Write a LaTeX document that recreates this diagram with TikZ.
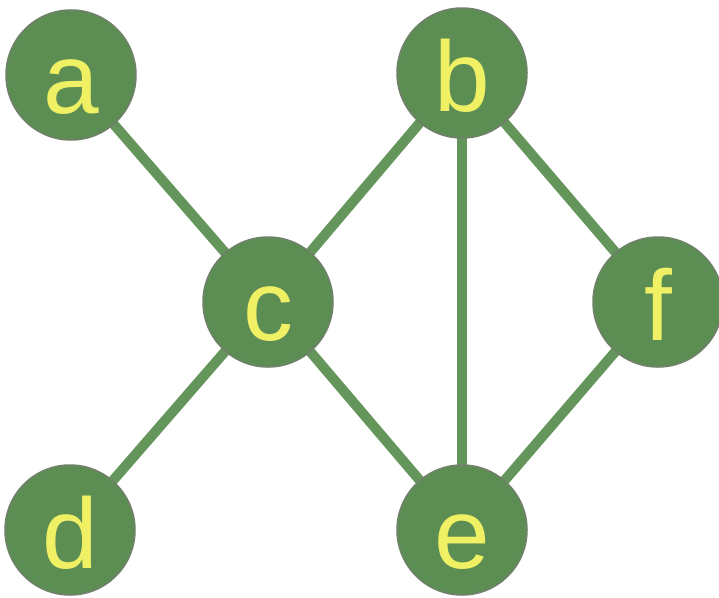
\documentclass[tikz,border=0pt]{standalone}
\usepackage{fontspec}
\setmainfont{Liberation Sans}
\definecolor{nodegreen}{RGB}{92,142,84}
\definecolor{edgegreen}{RGB}{100,150,92}
\definecolor{rimgray}{RGB}{112,128,106}
\definecolor{letteryellow}{RGB}{240,240,100}
\begin{document}
\begin{tikzpicture}[x=1pt,y=-1pt,
  vertex/.style={circle,fill=nodegreen,draw=rimgray,line width=1.5pt,minimum size=130pt,inner sep=0pt},
  lbl/.style={anchor=base,text=letteryellow,font=\fontsize{100}{100}\selectfont,inner sep=0pt},
  edge/.style={draw=edgegreen,line width=10pt}]
\useasboundingbox (0,0) rectangle (719,597);
\fill[white] (0,0) rectangle (719,597);
\coordinate (pa) at (71,75);
\coordinate (pb) at (462,73);
\coordinate (pc) at (268,302);
\coordinate (pd) at (70,530);
\coordinate (pe) at (462,530);
\coordinate (pf) at (658,302);
\path[edge] (pa) -- (pc);
\path[edge] (pc) -- (pb);
\path[edge] (pc) -- (pd);
\path[edge] (pc) -- (pe);
\path[edge] (pb) -- (pe);
\path[edge] (pb) -- (pf);
\path[edge] (pf) -- (pe);
\node[vertex] (a) at (pa) {};
\node[vertex] (b) at (pb) {};
\node[vertex] (c) at (pc) {};
\node[vertex] (d) at (pd) {};
\node[vertex] (e) at (pe) {};
\node[vertex] (f) at (pf) {};
\node[lbl] (la) at ([yshift=-38pt]a.center) {a};
\node[lbl] (lb) at ([yshift=-38pt]b.center) {b};
\node[lbl] (lc) at ([yshift=-38pt]c.center) {c};
\node[lbl] (ld) at ([yshift=-38pt]d.center) {d};
\node[lbl] (le) at ([yshift=-38pt]e.center) {e};
\node[lbl] (lf) at ([yshift=-38pt]f.center) {f};
\end{tikzpicture}
\end{document}
